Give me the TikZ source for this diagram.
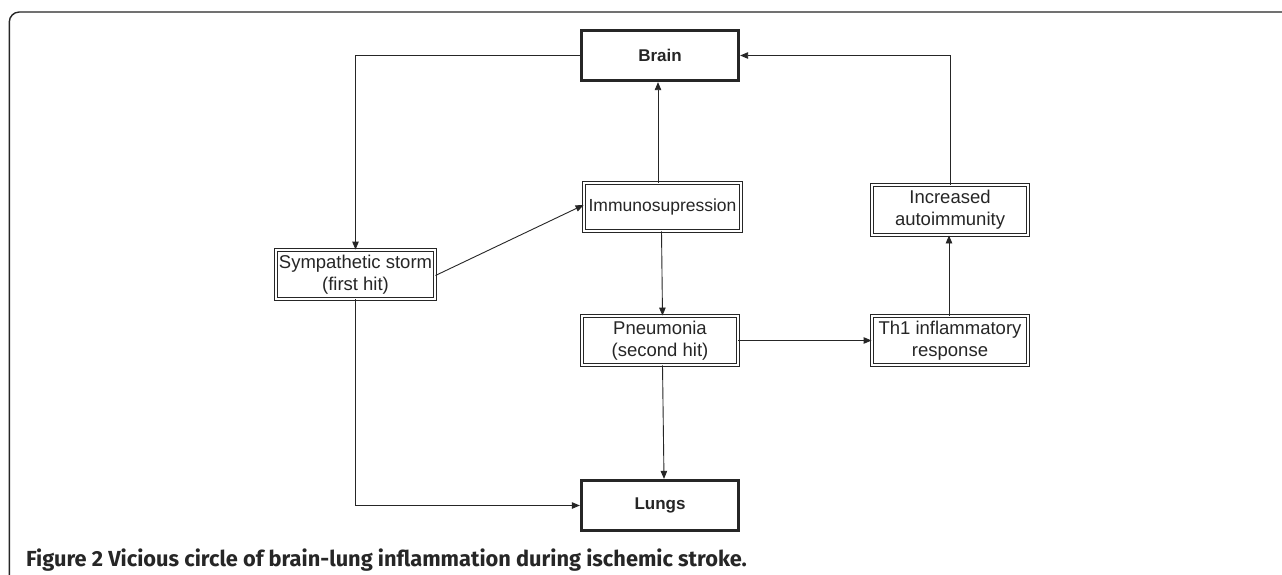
\documentclass[tikz,border=0pt]{standalone}
\usepackage{fontspec}
\setmainfont{Liberation Sans}
\newfontfamily\boxfont{Liberation Sans}
\newfontfamily\capfont{Fira Sans}
\usetikzlibrary{arrows.meta,calc}
\definecolor{fg}{HTML}{262626}
\begin{document}
\begin{tikzpicture}[x=1pt,y=-1pt,
  every node/.style={text=fg},
  arr/.style={draw=fg,line width=0.9pt,-{Triangle[length=8pt,width=6.5pt]}},
  dbox/.style={draw=fg,double=white,double distance=2pt,line width=0.9pt,
    minimum width=156pt,minimum height=49pt,inner sep=0pt,align=center,
    font=\boxfont\fontsize{18.5}{21.6}\selectfont},
  tbox/.style={draw=fg,line width=3.3pt,minimum width=157pt,minimum height=50pt,
    inner sep=0pt,align=center,font=\boxfont\bfseries\fontsize{17}{20}\selectfont}]
\useasboundingbox (0,0) rectangle (1282,574);
\fill[white] (0,0) rectangle (1282,574);
% frame
\draw[fg,line width=1.4pt,rounded corners=10pt] (9.3,580) -- (9.3,12) -- (1290,12);
% nodes
\node[tbox] (brain) at (660,55.5) {Brain};
\node[tbox] (lungs) at (660,505.5) {Lungs};
\node[dbox,minimum width=159pt] (symp) at (355.5,274.5) {Sympathetic storm\\(first hit)};
\node[dbox,minimum width=157pt,minimum height=48pt,font=\boxfont\fontsize{17.5}{21}\selectfont] (immuno) at (662.5,207) {Immunosupression};
\node[dbox] (pneu) at (660,340.5) {Pneumonia\\(second hit)};
\node[dbox] (th1) at (950,340.5) {Th1 inflammatory\\response};
\node[dbox,minimum height=50pt] (incr) at (950,210) {Increased\\autoimmunity};
% connectors
\draw[arr] (brain.west) -| (symp.north);
\draw[arr] ([yshift=-1pt]symp.east) -- ([yshift=2pt]immuno.west);
\draw[arr] ([xshift=-4.5pt]immuno.north) -- ([xshift=-4.5pt]immuno.north |- brain.south);
\draw[arr] ([xshift=-1pt]immuno.south) -- ([xshift=2.5pt]pneu.north);
\draw[arr] (pneu.east) -- (th1.west);
\draw[arr] ([xshift=-1pt]th1.north) -- ([xshift=-1pt]incr.south);
\draw[arr] (incr.north) |- (brain.east);
\draw[arr] ([xshift=2.5pt]pneu.south) -- ([xshift=4pt]lungs.north);
\draw[arr] (symp.south) |- (lungs.west);
% caption
\node[anchor=base west,inner sep=0pt,font=\capfont\fontsize{21.8}{24}\selectfont] (cap) at (26,566)
  {\bfseries Figure 2 Vicious circle of brain-lung inflammation during ischemic stroke.};
\end{tikzpicture}
\end{document}
